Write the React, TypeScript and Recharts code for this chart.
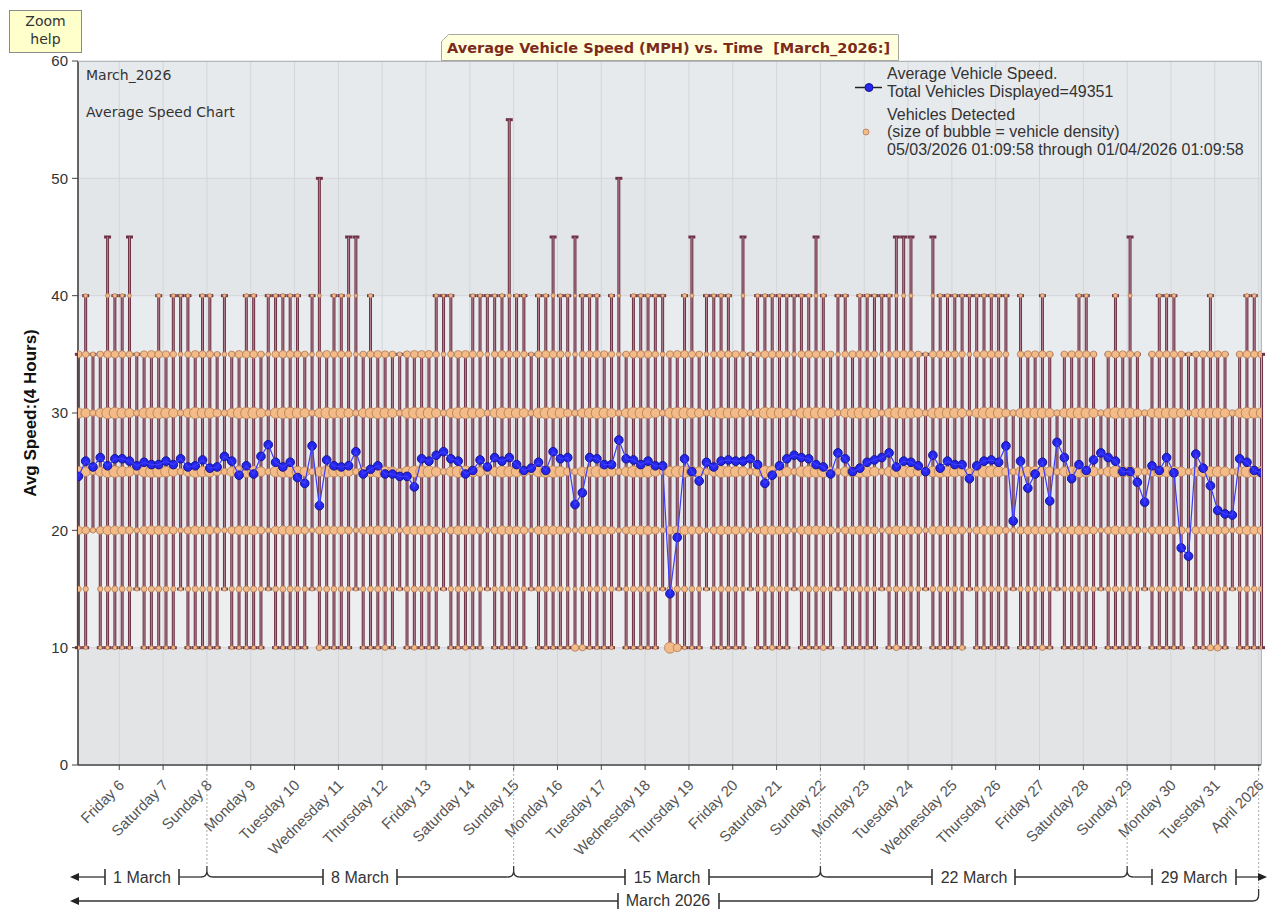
import React from 'react';
import { ComposedChart, XAxis, YAxis, CartesianGrid, Line, Scatter, ErrorBar } from 'recharts';

// ---- time axis (hours after 5 March 2026 00:00) ----
const START_HOUR = 1.6;
const STEP_HOURS = 4;
const X_MIN = 1.4;
const X_MAX = 649.3;

const dayTicks = [24, 48, 72, 96, 120, 144, 168, 192, 216, 240, 264, 288, 312, 336, 360, 384, 408, 432, 456, 480, 504, 528, 552, 576, 600, 624, 648];
const dayLabels = ['Friday 6', 'Saturday 7', 'Sunday 8', 'Monday 9', 'Tuesday 10', 'Wednesday 11', 'Thursday 12', 'Friday 13', 'Saturday 14', 'Sunday 15', 'Monday 16', 'Tuesday 17', 'Wednesday 18', 'Thursday 19', 'Friday 20', 'Saturday 21', 'Sunday 22', 'Monday 23', 'Tuesday 24', 'Wednesday 25', 'Thursday 26', 'Friday 27', 'Saturday 28', 'Sunday 29', 'Monday 30', 'Tuesday 31', 'April 2026'];

const yTicks = [0, 10, 20, 30, 40, 50, 60];

// ---- average speed per 4-hour interval ----
const avgSpeed = [
  24.6, 25.9, 25.4, 26.2, 25.5, 26.1, 26.1, 25.9, 25.5, 25.8,
  25.6, 25.6, 25.9, 25.6, 26.1, 25.4, 25.5, 26.0, 25.3, 25.4,
  26.3, 25.9, 24.7, 25.5, 24.8, 26.3, 27.3, 25.8, 25.4, 25.8,
  24.5, 24.0, 27.2, 22.1, 26.0, 25.5, 25.4, 25.5, 26.7, 24.8,
  25.2, 25.5, 24.8, 24.8, 24.6, 24.6, 23.7, 26.1, 25.9, 26.4,
  26.7, 26.1, 25.9, 24.8, 25.1, 26.0, 25.4, 26.2, 25.9, 26.2,
  25.6, 25.1, 25.3, 25.8, 25.1, 26.7, 26.1, 26.2, 22.2, 23.2,
  26.2, 26.1, 25.6, 25.6, 27.7, 26.1, 26.0, 25.6, 25.9, 25.5,
  25.5, 14.6, 19.4, 26.1, 25.0, 24.2, 25.8, 25.4, 25.9, 26.0,
  25.9, 25.9, 26.1, 25.6, 24.0, 24.7, 25.5, 26.1, 26.4, 26.2,
  26.1, 25.6, 25.4, 24.8, 26.6, 26.1, 25.0, 25.3, 25.8, 26.0,
  26.2, 26.6, 25.4, 25.9, 25.8, 25.5, 25.0, 26.4, 25.3, 25.9,
  25.6, 25.6, 24.4, 25.5, 25.9, 26.0, 25.8, 27.2, 20.8, 25.9,
  23.6, 24.8, 25.8, 22.5, 27.5, 26.2, 24.4, 25.6, 25.1, 26.0,
  26.6, 26.2, 25.9, 25.0, 25.0, 24.1, 22.4, 25.5, 25.1, 26.2,
  24.9, 18.5, 17.8, 26.5, 25.3, 23.8, 21.7, 21.4, 21.3, 26.1,
  25.8, 25.1, 24.9,
];

// ---- fastest vehicle bin per interval ----
const maxSpeed = [
  35, 40, 35, 35, 45, 40, 40, 45, 35, 35,
  35, 40, 35, 40, 40, 40, 35, 40, 40, 35,
  40, 35, 35, 40, 40, 35, 40, 40, 40, 40,
  40, 35, 40, 50, 35, 40, 40, 45, 45, 35,
  40, 35, 35, 35, 35, 35, 35, 35, 35, 40,
  40, 40, 35, 35, 40, 40, 40, 40, 40, 55,
  40, 40, 35, 40, 40, 45, 40, 40, 45, 40,
  40, 40, 35, 40, 50, 35, 40, 40, 40, 40,
  40, 35, 35, 40, 45, 35, 40, 40, 40, 40,
  35, 45, 35, 40, 40, 40, 40, 40, 40, 40,
  40, 45, 40, 35, 40, 40, 35, 40, 40, 40,
  40, 40, 45, 45, 45, 35, 35, 45, 40, 40,
  40, 40, 40, 40, 40, 40, 40, 40, 30, 40,
  35, 35, 40, 35, 30, 35, 35, 40, 40, 35,
  30, 35, 40, 35, 45, 35, 30, 35, 40, 40,
  40, 35, 35, 35, 35, 40, 35, 35, 30, 35,
  40, 40, 35,
];

// ---- slowest vehicle bin per interval ----
const minSpeed = [
  10, 10, 20, 10, 10, 10, 10, 10, 15, 10,
  10, 10, 10, 10, 15, 10, 10, 10, 10, 10,
  15, 10, 10, 10, 10, 10, 15, 10, 10, 10,
  10, 10, 15, 10, 10, 10, 10, 10, 15, 10,
  10, 10, 10, 10, 15, 10, 10, 10, 10, 10,
  15, 10, 10, 10, 10, 10, 15, 10, 10, 10,
  10, 10, 15, 10, 10, 10, 10, 10, 10, 10,
  10, 10, 10, 10, 15, 10, 10, 10, 10, 10,
  15, 10, 10, 10, 10, 10, 15, 10, 10, 10,
  10, 10, 15, 10, 10, 10, 10, 10, 15, 10,
  10, 10, 10, 10, 15, 10, 10, 10, 10, 10,
  15, 10, 10, 10, 10, 10, 15, 10, 10, 10,
  10, 10, 15, 10, 10, 10, 10, 10, 15, 10,
  10, 10, 10, 10, 15, 10, 10, 10, 10, 10,
  15, 10, 10, 10, 10, 10, 15, 10, 10, 10,
  10, 10, 15, 10, 10, 10, 10, 10, 15, 10,
  10, 10, 10,
];

// ---- relative traffic volume per interval (bubble size) ----
const volume = [
  4, 3, 1, 3, 5, 5,  4, 3, 1, 4, 5, 5,  4, 3, 1, 3, 5, 4,  4, 2, 1, 3, 5, 5,
  5, 3, 1, 4, 5, 5,  4, 3, 1, 3, 5, 4,  4, 3, 1, 3, 4, 5,  4, 3, 1, 4, 5, 5,
  5, 3, 1, 3, 5, 5,  4, 3, 1, 3, 5, 4,  4, 3, 1, 4, 5, 5,  4, 2, 1, 3, 4, 5,
  4, 3, 1, 3, 5, 5,  5, 3, 1, 4, 5, 5,  4, 3, 1, 3, 5, 4,  4, 3, 1, 3, 5, 5,
  4, 3, 1, 4, 5, 5,  5, 3, 1, 3, 4, 5,  4, 3, 1, 3, 5, 5,  4, 3, 1, 4, 5, 4,
  4, 3, 1, 3, 5, 5,  4, 2, 1, 3, 4, 4,  4, 3, 1, 3, 4, 5,  4, 3, 1, 3, 5, 4,
  4, 2, 1, 3, 4, 4,  4, 3, 1, 3, 4, 4,  4, 3, 1, 3, 5, 4,
  4,
];

// share of vehicles in each 5 mph bin
const speedBins = [10, 15, 20, 25, 30, 35, 40];
const binShare = [0.008, 0.05, 0.17, 0.32, 0.3, 0.1, 0.01];

// intervals with an unusually large 10 mph bubble
const slowIdx = [33, 42, 46, 53, 68, 69, 81, 82, 95, 102, 112, 121, 132, 155, 156];
const slowR = [3, 2.8, 2.6, 2.6, 3.6, 3.2, 5.5, 4, 2.6, 2.8, 3, 2.6, 2.8, 3.2, 3.4];

// ---- tables for the library ----
const rows = avgSpeed.map((v, i) => ({ t: START_HOUR + STEP_HOURS * i, avg: v }));

const stems = avgSpeed.map((_, i) => ({
  t: START_HOUR + STEP_HOURS * i,
  y: maxSpeed[i],
  err: [maxSpeed[i] - minSpeed[i], 0],
}));

const bubbles: { t: number; y: number; r: number }[] = [];
avgSpeed.forEach((_, i) => {
  const t = START_HOUR + STEP_HOURS * i;
  speedBins.forEach((b, k) => {
    if (b < minSpeed[i] || b > Math.min(maxSpeed[i], 40)) return;
    let r = 1.3 + 3.6 * Math.sqrt(volume[i] * binShare[k]);
    if (b === 10) {
      const s = slowIdx.indexOf(i);
      if (s >= 0) r = slowR[s];
    }
    bubbles.push({ t, y: b, r });
  });
});

const PLOT_L = 78;
const PLOT_R = 1261;
const PLOT_T = 61;
const PLOT_B = 765;
const px = (h: number) => PLOT_L + ((h - X_MIN) / (X_MAX - X_MIN)) * (PLOT_R - PLOT_L);

const ARIAL = "'Liberation Sans', Arial, sans-serif";
const VERDANA = "'DejaVu Sans', Verdana, sans-serif";

const XTick = (props: any) => {
  const { x, y, payload } = props;
  const idx = dayTicks.indexOf(payload.value);
  const label = idx >= 0 ? dayLabels[idx] : '';
  return (
    <text
      x={0}
      y={0}
      transform={`translate(${x + 6},${y + 14}) rotate(-45)`}
      textAnchor="end"
      fontSize={15}
      fill="#555"
      fontFamily={ARIAL}
    >
      {label}
    </text>
  );
};

const Nothing = () => <g />;

const Bubble = (props: any) => {
  const { cx, cy, payload } = props;
  if (cx == null || cy == null) return null;
  return <circle cx={cx} cy={cy} r={payload.r} fill="#f3bb87" stroke="#b47a55" strokeWidth={0.8} />;
};

const Junction = ({ x, y }: { x: number; y: number }) => (
  <path
    d={`M ${x - 6} ${y} Q ${x} ${y} ${x} ${y - 6} L ${x} ${y - 11} M ${x + 6} ${y} Q ${x} ${y} ${x} ${y - 6}`}
    fill="none"
    stroke="#333"
    strokeWidth={1.3}
  />
);

const VBar = ({ x, y }: { x: number; y: number }) => (
  <line x1={x} x2={x} y1={y - 8} y2={y + 8} stroke="#333" strokeWidth={1.6} />
);

const HLine = ({ x1, x2, y }: { x1: number; x2: number; y: number }) => (
  <line x1={x1} x2={x2} y1={y} y2={y} stroke="#333" strokeWidth={1.3} />
);

const BracketText = ({ x, y, children }: { x: number; y: number; children: React.ReactNode }) => (
  <text x={x} y={y} textAnchor="middle" fontSize={16} fontFamily={ARIAL} fill="#333">{children}</text>
);

const Overlay = () => {
  const r1 = 877;
  const r2 = 901;
  const sun = [72, 240, 408, 576].map(px);
  const apr = px(648);
  return (
    <svg width={1277} height={909} style={{ position: 'absolute', left: 0, top: 0, pointerEvents: 'none' }}>
      {/* plot frame top/right */}
      <line x1={PLOT_L} x2={PLOT_R} y1={PLOT_T + 0.5} y2={PLOT_T + 0.5} stroke="#b3b7bb" strokeWidth={1} />
      <line x1={PLOT_R + 0.5} x2={PLOT_R + 0.5} y1={PLOT_T} y2={PLOT_B} stroke="#b3b7bb" strokeWidth={1} />

      {/* zoom help */}
      <rect x={9.5} y={10.5} width={72} height={42} fill="#ffffcc" stroke="#8a8a8a" strokeWidth={1} />
      <text x={45.5} y={26} textAnchor="middle" fontSize={14} fontFamily={VERDANA} fill="#333">Zoom</text>
      <text x={45.5} y={44} textAnchor="middle" fontSize={14} fontFamily={VERDANA} fill="#333">help</text>

      {/* title */}
      <polygon points="441.5,60.5 441.5,41.5 448.5,34.5 898.5,34.5 898.5,60.5" fill="#fffedd" stroke="#a8a8a0" strokeWidth={1} />
      <text x={447} y={52.5} fontSize={14.5} fontWeight="bold" fontFamily={VERDANA} fill="#7a2b1c">
        Average Vehicle Speed (MPH) vs. Time{'\u00a0\u00a0'}[March_2026:]
      </text>

      {/* in-plot captions */}
      <text x={86} y={80} fontSize={14} fontFamily={VERDANA} fill="#333">March_2026</text>
      <text x={86} y={117} fontSize={14} fontFamily={VERDANA} fill="#333">Average Speed Chart</text>

      {/* legend */}
      <line x1={855} x2={882} y1={87.5} y2={87.5} stroke="#222" strokeWidth={1.5} />
      <circle cx={869} cy={87.5} r={4} fill="#2626ee" stroke="#141490" strokeWidth={1} />
      <text x={887} y={79} fontSize={16} fontFamily={ARIAL} fill="#333">Average Vehicle Speed.</text>
      <text x={887} y={97} fontSize={16} fontFamily={ARIAL} fill="#333">Total Vehicles Displayed=49351</text>
      <circle cx={866} cy={132} r={3} fill="#f3bb87" stroke="#b47a55" strokeWidth={0.8} />
      <text x={887} y={120} fontSize={16} fontFamily={ARIAL} fill="#333">Vehicles Detected</text>
      <text x={887} y={137} fontSize={16} fontFamily={ARIAL} fill="#333">(size of bubble = vehicle density)</text>
      <text x={887} y={155} fontSize={16} fontFamily={ARIAL} fill="#333">05/03/2026 01:09:58 through 01/04/2026 01:09:58</text>

      {/* y label */}
      <text
        x={0}
        y={0}
        transform={`translate(36,${(PLOT_T + PLOT_B) / 2}) rotate(-90)`}
        textAnchor="middle"
        fontSize={17}
        fontWeight="bold"
        fontFamily={ARIAL}
        fill="#111"
      >
        Avg Speed:(4 Hours)
      </text>

      {/* week separators */}
      {sun.map((x, i) => (
        <line key={'d' + i} x1={x} x2={x} y1={PLOT_B + 1} y2={r1 - 11} stroke="#aaa" strokeWidth={1} strokeDasharray="2,2" />
      ))}
      <line x1={apr} x2={apr} y1={PLOT_B + 1} y2={r2 - 12} stroke="#aaa" strokeWidth={1} strokeDasharray="2,2" />

      {/* week row */}
      <polygon points={`70,${r1} 79,${r1 - 4} 79,${r1 + 4}`} fill="#222" />
      <HLine x1={79} x2={105} y={r1} />
      <VBar x={105} y={r1} />
      <BracketText x={142} y={r1 + 5.5}>1 March</BracketText>
      <VBar x={179} y={r1} />
      <HLine x1={179} x2={sun[0] - 6} y={r1} />
      <Junction x={sun[0]} y={r1} />
      <HLine x1={sun[0] + 6} x2={323} y={r1} />
      <VBar x={323} y={r1} />
      <BracketText x={360} y={r1 + 5.5}>8 March</BracketText>
      <VBar x={397} y={r1} />
      <HLine x1={397} x2={sun[1] - 6} y={r1} />
      <Junction x={sun[1]} y={r1} />
      <HLine x1={sun[1] + 6} x2={625} y={r1} />
      <VBar x={625} y={r1} />
      <BracketText x={667} y={r1 + 5.5}>15 March</BracketText>
      <VBar x={709} y={r1} />
      <HLine x1={709} x2={sun[2] - 6} y={r1} />
      <Junction x={sun[2]} y={r1} />
      <HLine x1={sun[2] + 6} x2={932} y={r1} />
      <VBar x={932} y={r1} />
      <BracketText x={974} y={r1 + 5.5}>22 March</BracketText>
      <VBar x={1015} y={r1} />
      <HLine x1={1015} x2={sun[3] - 6} y={r1} />
      <Junction x={sun[3]} y={r1} />
      <HLine x1={sun[3] + 6} x2={1152} y={r1} />
      <VBar x={1152} y={r1} />
      <BracketText x={1194} y={r1 + 5.5}>29 March</BracketText>
      <VBar x={1236} y={r1} />
      <HLine x1={1236} x2={1258} y={r1} />
      <polygon points={`1267,${r1} 1258,${r1 - 4} 1258,${r1 + 4}`} fill="#222" />

      {/* month row */}
      <polygon points={`70,${r2} 79,${r2 - 4} 79,${r2 + 4}`} fill="#222" />
      <HLine x1={79} x2={618} y={r2} />
      <VBar x={618} y={r2} />
      <BracketText x={668} y={r2 + 5}>March 2026</BracketText>
      <VBar x={719} y={r2} />
      <path d={`M 719 ${r2} L ${apr - 6} ${r2} Q ${apr} ${r2} ${apr} ${r2 - 6} L ${apr} ${r2 - 12}`} fill="none" stroke="#333" strokeWidth={1.3} />
    </svg>
  );
};

export default function App() {
  return (
    <div style={{ position: 'absolute', left: 0, top: 0, width: 1277, height: 909, background: '#fff' }}>
      <ComposedChart
        width={1277}
        height={909}
        data={rows}
        margin={{ top: PLOT_T, right: 1277 - PLOT_R, bottom: 0, left: 0 }}
      >
        <CartesianGrid
          stroke="#d3d6d9"
          horizontalFill={['#e7eaed', '#e3e6e9', '#e9ecef', '#e6e9ec', '#eceef0', '#e2e4e6', '#e2e4e6']}
          fillOpacity={1}
        />
        <XAxis
          type="number"
          dataKey="t"
          domain={[X_MIN, X_MAX]}
          allowDataOverflow
          ticks={dayTicks}
          interval={0}
          height={909 - PLOT_B}
          tick={<XTick />}
          tickSize={5}
          tickMargin={2}
          axisLine={{ stroke: '#444', strokeWidth: 1.6 }}
          tickLine={{ stroke: '#444' }}
        />
        <YAxis
          type="number"
          domain={[0, 60]}
          ticks={yTicks}
          allowDataOverflow
          width={PLOT_L}
          tickSize={6}
          tickMargin={4}
          tick={{ fontSize: 15, fill: '#333', fontFamily: ARIAL }}
          axisLine={{ stroke: '#444', strokeWidth: 1.6 }}
          tickLine={{ stroke: '#444' }}
        />
        <Scatter data={stems} dataKey="y" shape={<Nothing />} isAnimationActive={false}>
          <ErrorBar dataKey="err" direction="y" width={3.5} stroke="#6e3345" strokeWidth={3} isAnimationActive={false} />
          <ErrorBar dataKey="err" direction="y" width={0} stroke="#b08090" strokeWidth={1} isAnimationActive={false} />
        </Scatter>
        <Scatter data={bubbles} dataKey="y" shape={<Bubble />} isAnimationActive={false} />
        <Line
          dataKey="avg"
          stroke="#3c3cff"
          strokeWidth={1.2}
          dot={{ r: 4.3, fill: '#2626ee', stroke: '#141490', strokeWidth: 1 }}
          activeDot={false}
          isAnimationActive={false}
          zIndex={700}
        />
      </ComposedChart>
      <Overlay />
    </div>
  );
}
